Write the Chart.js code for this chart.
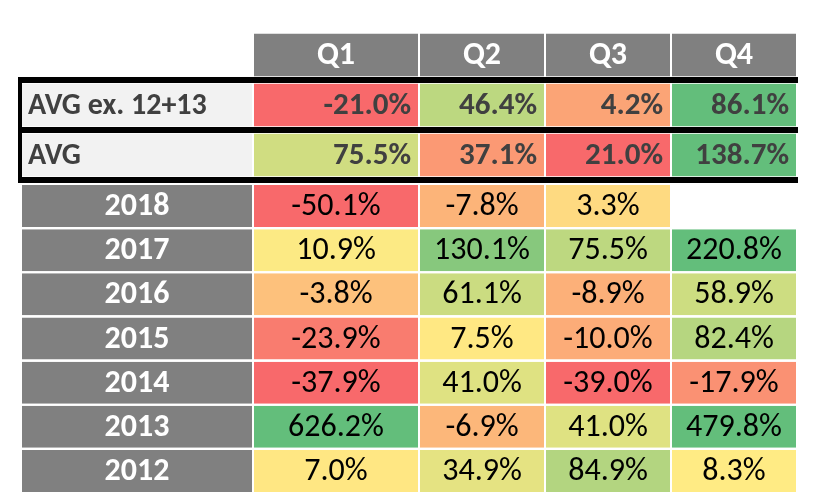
<!DOCTYPE html>
<html>
<head>
<meta charset="utf-8">
<script src="https://cdn.jsdelivr.net/npm/chart.js@4"></script>
<style>
  html, body { margin: 0; padding: 0; background: #ffffff; }
  #wrap { position: relative; width: 824px; height: 502px; }
  #topCanvas { position: absolute; left: 0; top: 0; }
  #yearCanvas { position: absolute; left: 0; top: 184px; }
</style>
</head>
<body>
<div id="wrap">
  <canvas id="topCanvas" width="824" height="184"></canvas>
  <canvas id="yearCanvas" width="824" height="318"></canvas>
</div>
<script>
// Quarterly returns heat table
const quarters = ['Q1', 'Q2', 'Q3', 'Q4'];
const summaryLabels = ['AVG ex. 12+13', 'AVG'];
const avgEx = [-21.0, 46.4, 4.2, 86.1];
const avgAll = [75.5, 37.1, 21.0, 138.7];

const years = ['2018', '2017', '2016', '2015', '2014', '2013', '2012'];
const q1 = [-50.1, 10.9, -3.8, -23.9, -37.9, 626.2, 7.0];
const q2 = [-7.8, 130.1, 61.1, 7.5, 41.0, -6.9, 34.9];
const q3 = [3.3, 75.5, -8.9, -10.0, -39.0, 41.0, 84.9];
const q4 = [null, 220.8, 58.9, 82.4, -17.9, 479.8, 8.3];

// layout: relative column widths (label column first)
const colWidths = [232, 166, 126, 126, 126];
const FONT = 'Calibri, Carlito, Lato, sans-serif';
const RED = [248, 105, 107], YELLOW = [255, 235, 132], GREEN = [99, 190, 123];

function percentile(vals, p) {
    const s = vals.filter(v => v !== null).slice().sort((a, b) => a - b);
    const idx = (s.length - 1) * p;
    const lo = Math.floor(idx), hi = Math.ceil(idx);
    return s[lo] + (s[hi] - s[lo]) * (idx - lo);
}

function mix(a, b, t) {
    t = Math.max(0, Math.min(1, t));
    return 'rgb(' + a.map((c, i) => Math.round(c + (b[i] - c) * t)).join(',') + ')';
}

// 3-colour scale, like a spreadsheet: P10 red, P50 yellow, P90 green
function makeScale(vals) {
    const lo = percentile(vals, 0.1), mid = percentile(vals, 0.5), hi = percentile(vals, 0.9);
    return v => {
        if (v === null) return 'rgba(0,0,0,0)';
        if (v <= mid) return mix(RED, YELLOW, (v - lo) / (mid - lo));
        return mix(YELLOW, GREEN, (v - mid) / (hi - mid));
    };
}

const fmt = v => v === null ? '' : v.toFixed(1) + '%';

const cellText = {
    id: 'cellText',
    afterDatasetsDraw(chart) {
        const ctx = chart.ctx;
        chart.data.datasets.forEach((ds, di) => {
            const meta = chart.getDatasetMeta(di);
            meta.data.forEach((bar, i) => {
                const t = ds.texts[i];
                if (!t) return;
                const st = ds.styles[i];
                const p = bar.getProps(['x', 'base', 'y'], true);
                const left = Math.min(p.x, p.base), right = Math.max(p.x, p.base);
                ctx.save();
                ctx.font = st.font;
                ctx.fillStyle = st.color;
                ctx.textBaseline = 'middle';
                ctx.textAlign = st.align;
                let tx = (left + right) / 2;
                if (st.align === 'left') tx = left + 7;
                if (st.align === 'right') tx = right - 8;
                ctx.fillText(t, tx, p.y + 1);
                ctx.restore();
            });
        });
    }
};

// thick black frame around the two average rows
const avgFrame = {
    id: 'avgFrame',
    afterDraw(chart) {
        const ctx = chart.ctx;
        const y = chart.scales.y;
        const step = y.getPixelForValue(1) - y.getPixelForValue(0);
        const x0 = chart.chartArea.left - 3, x1 = chart.chartArea.right + 1;
        ctx.save();
        ctx.strokeStyle = '#000000';
        ctx.lineWidth = 6;
        [0.5, 1.5, 2.5].forEach(k => {
            const py = y.getPixelForValue(0) + step * k;
            ctx.beginPath();
            ctx.moveTo(x0, py);
            ctx.lineTo(x1, py);
            ctx.stroke();
        });
        ctx.lineWidth = 4;
        ctx.beginPath();
        ctx.moveTo(x0 + 2, y.getPixelForValue(0) + step * 0.5 - 3);
        ctx.lineTo(x0 + 2, y.getPixelForValue(0) + step * 2.5 + 3);
        ctx.stroke();
        ctx.restore();
    }
};

function tableOptions(padding) {
    const total = colWidths.reduce((a, b) => a + b, 0);
    return {
        responsive: false,
        animation: false,
        indexAxis: 'y',
        layout: { padding: padding },
        plugins: { legend: { display: false }, tooltip: { enabled: false } },
        scales: {
            x: { stacked: true, display: false, min: 0, max: total },
            y: { stacked: true, display: false }
        }
    };
}

function barStyle(pct) {
    return {
        borderColor: '#ffffff',
        borderWidth: { left: 1, right: 1, top: 0, bottom: 0 },
        borderSkipped: false,
        inflateAmount: 0,
        barPercentage: pct,
        categoryPercentage: 1
    };
}

function init() {
    // top block: header + averages
    const headStyle = { font: 'bold 32px ' + FONT, color: '#ffffff', align: 'center' };
    const avgLabelStyle = { font: 'bold 30px ' + FONT, color: '#404040', align: 'left' };
    const avgValStyle = { font: 'bold 31px ' + FONT, color: '#404040', align: 'right' };
    const exScale = makeScale(avgEx), allScale = makeScale(avgAll);

    const topSets = [Object.assign({
        data: [colWidths[0], colWidths[0], colWidths[0]],
        backgroundColor: ['rgba(0,0,0,0)', '#f2f2f2', '#f2f2f2'],
        texts: ['', summaryLabels[0], summaryLabels[1]],
        styles: [headStyle, avgLabelStyle, avgLabelStyle]
    }, barStyle(0.86))];
    quarters.forEach((q, i) => {
        topSets.push(Object.assign({
            data: [colWidths[i + 1], colWidths[i + 1], colWidths[i + 1]],
            backgroundColor: ['#808080', exScale(avgEx[i]), allScale(avgAll[i])],
            texts: [q, fmt(avgEx[i]), fmt(avgAll[i])],
            styles: [headStyle, avgValStyle, avgValStyle]
        }, barStyle(0.86)));
    });

    new Chart(document.getElementById('topCanvas'), {
        type: 'bar',
        data: { labels: ['', summaryLabels[0], summaryLabels[1]], datasets: topSets },
        options: tableOptions({ left: 21, right: 27, top: 30, bottom: 4 }),
        plugins: [cellText, avgFrame]
    });

    // year block
    const cols = [q1, q2, q3, q4];
    const yearScale = makeScale([].concat(q1, q2, q3, q4));
    const yearStyle = { font: 'bold 32px ' + FONT, color: '#ffffff', align: 'center' };
    const valStyle = { font: '32px ' + FONT, color: '#000000', align: 'center' };

    const yearSets = [Object.assign({
        data: years.map(() => colWidths[0]),
        backgroundColor: years.map(() => '#808080'),
        texts: years,
        styles: years.map(() => yearStyle)
    }, barStyle(0.951))];
    cols.forEach((col, i) => {
        yearSets.push(Object.assign({
            data: col.map(() => colWidths[i + 1]),
            backgroundColor: col.map(v => yearScale(v)),
            texts: col.map(fmt),
            styles: col.map(() => valStyle)
        }, barStyle(0.951)));
    });

    new Chart(document.getElementById('yearCanvas'), {
        type: 'bar',
        data: { labels: years, datasets: yearSets },
        options: tableOptions({ left: 21, right: 27, top: 0, bottom: 9 }),
        plugins: [cellText]
    });
}

document.fonts.load('bold 28px Lato').then(init, init);
</script>
</body>
</html>
